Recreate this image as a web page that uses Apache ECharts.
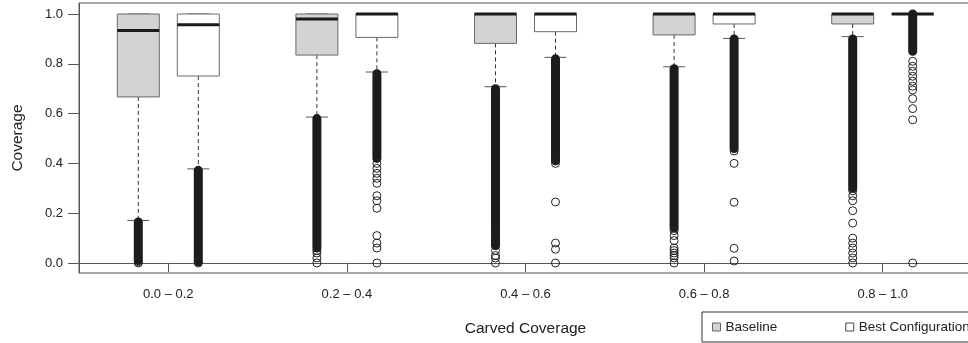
<!DOCTYPE html>
<html>
<head>
<meta charset="utf-8">
<script src="https://cdn.jsdelivr.net/npm/echarts@6/dist/echarts.min.js"></script>
<style>
html,body{margin:0;padding:0;background:#fff;}
#chart{width:968px;height:343px;}
</style>
</head>
<body>
<div id="chart"></div>
<script>
// ---- data ----
const categories = ['0.0 \u2013 0.2', '0.2 \u2013 0.4', '0.4 \u2013 0.6', '0.6 \u2013 0.8', '0.8 \u2013 1.0'];
const yTicks = [0, 0.2, 0.4, 0.6, 0.8, 1.0];
// [lower whisker, Q1, median, Q3, upper whisker]
const baselineStats = [
  [0.171, 0.667, 0.934, 1.0, 1.0],
  [0.586, 0.835, 0.980, 1.0, 1.0],
  [0.708, 0.882, 1.0, 1.0, 1.0],
  [0.788, 0.916, 1.0, 1.0, 1.0],
  [0.909, 0.960, 1.0, 1.0, 1.0]
];
const bestStats = [
  [0.378, 0.751, 0.957, 1.0, 1.0],
  [0.767, 0.906, 1.0, 1.0, 1.0],
  [0.826, 0.929, 1.0, 1.0, 1.0],
  [0.902, 0.960, 1.0, 1.0, 1.0],
  [1.0, 1.0, 1.0, 1.0, 1.0]
];
// ranges where outliers are so dense they merge into a solid bar [high, low]
const baselineDense = [[0.165, 0.01], [0.58, 0.06], [0.70, 0.07], [0.78, 0.14], [0.90, 0.30]];
const bestDense = [[0.372, 0.005], [0.76, 0.42], [0.82, 0.41], [0.90, 0.46], [1.0, 0.85]];
// individually visible outliers
const baselineOutliers = [
  [0.005, 0.0],
  [0.05, 0.04, 0.02, 0.0],
  [0.12, 0.10, 0.07, 0.05, 0.03, 0.02, 0.0],
  [0.13, 0.11, 0.09, 0.06, 0.05, 0.04, 0.03, 0.02, 0.0],
  [0.29, 0.27, 0.25, 0.21, 0.16, 0.10, 0.08, 0.06, 0.04, 0.02, 0.0]
];
const bestOutliers = [
  [0.005, 0.0],
  [0.40, 0.38, 0.36, 0.34, 0.32, 0.27, 0.25, 0.22, 0.11, 0.08, 0.06, 0.0],
  [0.40, 0.245, 0.08, 0.055, 0.0],
  [0.45, 0.40, 0.244, 0.059, 0.008],
  [0.81, 0.79, 0.77, 0.75, 0.73, 0.71, 0.695, 0.66, 0.62, 0.575, 0.0]
];

// ---- build ----
const FONT = '"Liberation Sans", Arial, Helvetica, sans-serif';
const BOX_W = 42, CAP_W = 22, OFF = 30, DOT_R = 4, BAR_W = 9;

function boxData(stats) { return stats.map((s, i) => [i].concat(s)); }
function denseData(d) { return d.map((r, i) => [i, r[0], r[1]]); }
function outlierData(o) {
  const out = [];
  o.forEach((arr, i) => arr.forEach(v => out.push([i, v])));
  return out;
}

function boxRenderer(offset, fill) {
  return function (params, api) {
    const cat = api.value(0);
    const x = api.coord([cat, 0])[0] + offset;
    const yLo = api.coord([cat, api.value(1)])[1];
    const yQ1 = api.coord([cat, api.value(2)])[1];
    const yMed = api.coord([cat, api.value(3)])[1];
    const yQ3 = api.coord([cat, api.value(4)])[1];
    const yHi = api.coord([cat, api.value(5)])[1];
    const dash = { stroke: '#333', lineWidth: 1, lineDash: [4, 3] };
    const cap = { stroke: '#555', lineWidth: 1 };
    return {
      type: 'group',
      children: [
        { type: 'line', shape: { x1: x, y1: yQ1, x2: x, y2: yLo }, style: dash },
        { type: 'line', shape: { x1: x, y1: yQ3, x2: x, y2: yHi }, style: dash },
        { type: 'line', shape: { x1: x - CAP_W / 2, y1: yLo, x2: x + CAP_W / 2, y2: yLo }, style: cap },
        { type: 'line', shape: { x1: x - CAP_W / 2, y1: yHi, x2: x + CAP_W / 2, y2: yHi }, style: cap },
        { type: 'rect', shape: { x: x - BOX_W / 2, y: yQ3, width: BOX_W, height: yQ1 - yQ3 },
          style: { fill: fill, stroke: '#6a6a6a', lineWidth: 1 } },
        { type: 'line', shape: { x1: x - BOX_W / 2, y1: yMed, x2: x + BOX_W / 2, y2: yMed },
          style: { stroke: '#1a1a1a', lineWidth: 3 } }
      ]
    };
  };
}
function denseRenderer(offset) {
  return function (params, api) {
    const cat = api.value(0);
    const x = api.coord([cat, 0])[0] + offset;
    const yH = api.coord([cat, api.value(1)])[1];
    const yL = api.coord([cat, api.value(2)])[1];
    return {
      type: 'rect',
      shape: { x: x - BAR_W / 2, y: yH - BAR_W / 2, width: BAR_W, height: yL - yH + BAR_W, r: BAR_W / 2 },
      style: { fill: '#1c1c1c' }
    };
  };
}
function outlierRenderer(offset) {
  return function (params, api) {
    const cat = api.value(0);
    const x = api.coord([cat, 0])[0] + offset;
    const y = api.coord([cat, api.value(1)])[1];
    return {
      type: 'circle',
      shape: { cx: x, cy: y, r: DOT_R },
      style: { fill: 'transparent', stroke: '#222', lineWidth: 1 }
    };
  };
}

const chart = echarts.init(document.getElementById('chart'), null, { renderer: 'canvas' });
chart.setOption({
  animation: false,
  textStyle: { fontFamily: FONT },
  grid: { left: 79, top: 3, width: 893, height: 270, containLabel: false, outerBoundsMode: 'none',
    show: true, borderColor: '#555', borderWidth: 1, backgroundColor: 'transparent' },
  legend: {
    left: 702, top: 312, width: 320, orient: 'horizontal',
    padding: [8, 10, 8, 10], borderColor: '#333', borderWidth: 1,
    itemWidth: 8, itemHeight: 8, itemGap: 68, icon: 'rect',
    textStyle: { fontSize: 13.5, color: '#222', fontFamily: FONT },
    data: [
      { name: 'Baseline', itemStyle: { color: '#d3d3d3', borderColor: '#666', borderWidth: 1 } },
      { name: 'Best Configuration', itemStyle: { color: '#ffffff', borderColor: '#444', borderWidth: 1 } }
    ]
  },
  xAxis: {
    type: 'category', data: categories, boundaryGap: true,
    axisLine: { show: true, lineStyle: { color: '#555' } },
    axisTick: { show: true, alignWithLabel: true, length: 9, lineStyle: { color: '#555' } },
    axisLabel: { margin: 15, fontSize: 13, color: '#222', fontFamily: FONT },
    splitLine: { show: false },
    name: 'Carved Coverage', nameLocation: 'middle', nameGap: 48,
    nameTextStyle: { fontSize: 15.5, color: '#222', fontFamily: FONT }
  },
  yAxis: {
    type: 'value', min: -0.0402, max: 1.0442,
    axisLine: { show: true, lineStyle: { color: '#555' } },
    axisTick: { show: true, length: 11, customValues: yTicks, lineStyle: { color: '#555' } },
    axisLabel: { customValues: yTicks, margin: 16, fontSize: 13, color: '#222', fontFamily: FONT,
      formatter: v => Number(v).toFixed(1) },
    splitLine: { show: false },
    name: 'Coverage', nameLocation: 'middle', nameGap: 53,
    nameTextStyle: { fontSize: 15.5, color: '#222', fontFamily: FONT }
  },
  series: [
    { name: 'Baseline', type: 'custom', renderItem: boxRenderer(-OFF, '#d3d3d3'),
      itemStyle: { color: '#d3d3d3', borderColor: '#666' },
      encode: { x: 0, y: [1, 2, 3, 4, 5] }, data: boxData(baselineStats), z: 2 },
    { name: 'Best Configuration', type: 'custom', renderItem: boxRenderer(OFF, '#ffffff'),
      itemStyle: { color: '#ffffff', borderColor: '#444' },
      encode: { x: 0, y: [1, 2, 3, 4, 5] }, data: boxData(bestStats), z: 2 },
    { name: 'baseline-dense', type: 'custom', renderItem: denseRenderer(-OFF),
      encode: { x: 0, y: [1, 2] }, data: denseData(baselineDense), z: 3 },
    { name: 'best-dense', type: 'custom', renderItem: denseRenderer(OFF),
      encode: { x: 0, y: [1, 2] }, data: denseData(bestDense), z: 3 },
    { name: 'baseline-outliers', type: 'custom', renderItem: outlierRenderer(-OFF),
      encode: { x: 0, y: 1 }, data: outlierData(baselineOutliers), z: 4 },
    { name: 'best-outliers', type: 'custom', renderItem: outlierRenderer(OFF),
      encode: { x: 0, y: 1 }, data: outlierData(bestOutliers), z: 4 }
  ]
});
</script>
</body>
</html>
